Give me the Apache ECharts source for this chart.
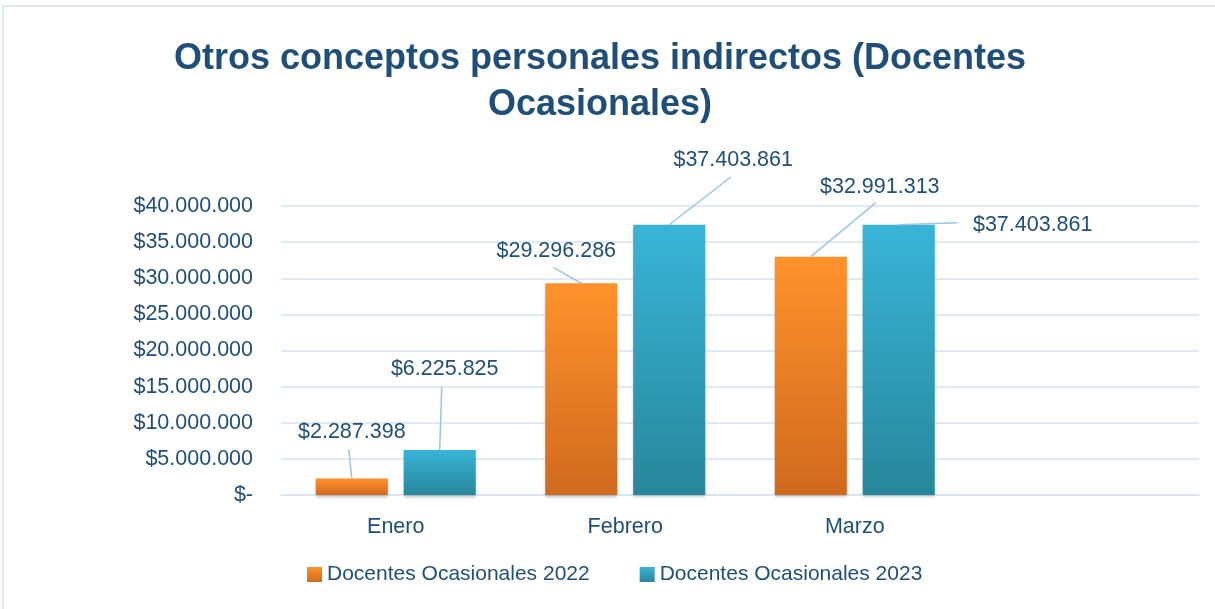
<!DOCTYPE html>
<html>
<head>
<meta charset="utf-8">
<script src="https://cdn.jsdelivr.net/npm/echarts@6/dist/echarts.min.js"></script>
<style>
html, body { margin: 0; padding: 0; background: #fff; }
#chart { width: 1215px; height: 609px; }
</style>
</head>
<body>
<div id="chart"></div>
<script>
// datos
var categorias = ['Enero', 'Febrero', 'Marzo', ''];
var docentes2022 = [2287398, 29296286, 32991313, null];
var docentes2023 = [6225825, 37403861, 37403861, null];
var nombres = ['Docentes Ocasionales 2022', 'Docentes Ocasionales 2023'];

// desplazamiento de etiquetas (dx, dy) respecto a la posicion por defecto
var offs2022 = [[0, -30], [-25, -16], [69, -54]];
var offs2023 = [[5, -65], [64, -49], [134, 16]];
// lineas guia: vector desde el centro superior de la barra
var guia2022 = [[-3, -29], [-28, -16], [65, -54]];
var guia2023 = [[2, -63], [62, -48], [59, -2]];

var azul = '#1F4E79';
var fuente = 'Liberation Sans';
var ANCHO = 0.314, HUECO = 0.22;

function fmt(v) {
	return '$' + String(v).replace(/\B(?=(\d{3})+(?!\d))/g, '.');
}

function grad(c1, c2) {
	return new echarts.graphic.LinearGradient(0, 0, 0, 1, [
		{ offset: 0, color: c1 },
		{ offset: 1, color: c2 }
	]);
}

function serie(nombre, datos, color, offs) {
	return {
		name: nombre,
		type: 'bar',
		data: datos,
		barWidth: (ANCHO * 100) + '%',
		barGap: (HUECO * 100) + '%',
		z: 3,
		itemStyle: { color: color, shadowColor: 'rgba(0,0,0,0.25)', shadowBlur: 3, shadowOffsetY: 2 },
		label: {
			show: true,
			position: 'top',
			distance: 5,
			color: azul,
			fontFamily: fuente,
			fontSize: 21.5,
			formatter: function(p) { return p.value == null ? '' : fmt(p.value); }
		},
		labelLayout: function(p) {
			var o = offs[p.dataIndex];
			if (!o) return {};
			return { dx: o[0], dy: o[1] };
		}
	};
}

// lineas que unen cada barra con su etiqueta
function lineas(datos, guia, lado) {
	var pts = [];
	for (var i = 0; i < datos.length; i++) {
		if (datos[i] != null) pts.push([i, datos[i]]);
	}
	return {
		type: 'custom',
		silent: true,
		z: 4,
		data: pts,
		renderItem: function(params, api) {
			var i = api.value(0);
			var p = api.coord([i, api.value(1)]);
			var banda = api.size([1, 0])[0];
			var x = p[0] + lado * banda * ANCHO * (1 + HUECO) / 2;
			var g = guia[i];
			return {
				type: 'line',
				shape: { x1: x, y1: p[1], x2: x + g[0], y2: p[1] + g[1] },
				style: { stroke: '#9DC3E6', lineWidth: 1.5 }
			};
		}
	};
}

var chart = echarts.init(document.getElementById('chart'));
chart.setOption({
	animation: false,
	title: {
		text: 'Otros conceptos personales indirectos (Docentes\nOcasionales)',
		left: 595,
		top: 31,
		textAlign: 'center',
		textStyle: { color: azul, fontFamily: fuente, fontWeight: 'bold', fontSize: 36, lineHeight: 46 }
	},
	graphic: [{
		type: 'rect',
		shape: { x: 3, y: 6, width: 1230, height: 620 },
		style: { fill: 'none', stroke: '#D6E3F3', lineWidth: 1.5 },
		silent: true
	}],
	legend: {
		data: nombres,
		bottom: 19,
		left: 302,
		itemWidth: 15,
		itemHeight: 15,
		itemGap: 50,
		icon: 'rect',
		textStyle: { color: azul, fontFamily: fuente, fontSize: 21 }
	},
	grid: { left: 281, right: 16, top: 206, bottom: 114 },
	xAxis: {
		type: 'category',
		data: categorias,
		axisLine: { show: true, lineStyle: { color: '#D6E3F3', width: 1.5 } },
		axisTick: { show: false },
		axisLabel: { color: azul, fontFamily: fuente, fontSize: 21.5, margin: 21 }
	},
	yAxis: {
		type: 'value',
		min: 0,
		max: 40000000,
		interval: 5000000,
		axisLine: { show: false },
		axisTick: { show: false },
		splitLine: { lineStyle: { color: '#D6E3F3', width: 1.5 } },
		axisLabel: {
			color: azul, fontFamily: fuente, fontSize: 21.5, margin: 28,
			formatter: function(v) { return v === 0 ? '$-' : fmt(v); }
		}
	},
	series: [
		serie(nombres[0], docentes2022, grad('#FF922B', '#CF6A1E'), offs2022),
		serie(nombres[1], docentes2023, grad('#38B4D7', '#28879B'), offs2023),
		lineas(docentes2022, guia2022, -1),
		lineas(docentes2023, guia2023, 1)
	]
});
</script>
</body>
</html>
